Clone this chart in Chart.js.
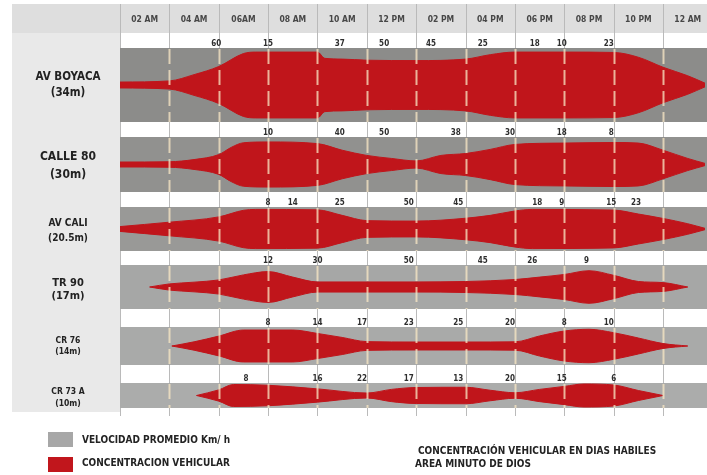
<!DOCTYPE html>
<html lang="es">
<head>
<meta charset="utf-8">
<title>Concentración vehicular en días hábiles — Área Minuto de Dios</title>
<script src="https://cdn.jsdelivr.net/npm/chart.js@4.4.1/dist/chart.umd.min.js"></script>
<style>
  html, body { margin: 0; padding: 0; background: #fff; }
  #frame { position: relative; width: 707px; height: 475px; overflow: hidden;
           font-family: "DejaVu Sans Condensed", "Liberation Sans", Arial, sans-serif; font-weight: bold; color: #232323; }
  #chart { position: absolute; left: 0; top: 0; }
  .swatch { position: absolute; left: 48px; width: 25px; height: 15px; }
  .key { position: absolute; left: 82px; font-size: 10px; line-height: 12px; white-space: nowrap; }
  .note { position: absolute; font-size: 10px; line-height: 12px; white-space: nowrap; }
</style>
</head>
<body>
<div id="frame">
  <canvas id="chart" width="707" height="475"></canvas>
  <div class="swatch" style="top:432px;background:#a7a7a7"></div>
  <div class="key" style="top:434px">VELOCIDAD PROMEDIO Km/ h</div>
  <div class="swatch" style="top:457px;background:#c1161c"></div>
  <div class="key" style="top:457px">CONCENTRACION VEHICULAR</div>
  <div class="note" style="left:418px;top:445px">CONCENTRACIÓN VEHICULAR EN DIAS HABILES</div>
  <div class="note" style="left:415px;top:458px">AREA MINUTO DE DIOS</div>
</div>
<script>
// ---- time axis -------------------------------------------------------------
const timeLabels = ['02 AM', '04 AM', '06AM', '08 AM', '10 AM', '12 PM',
                    '02 PM', '04 PM', '06 PM', '08 PM', '10 PM', '12 AM'];
const labelHours = [2, 4, 6, 8, 10, 12, 14, 16, 18, 20, 22, 24];
const ruleHours  = [1, 3, 5, 7, 9, 11, 13, 15, 17, 19, 21, 23];

// ---- roads -----------------------------------------------------------------
const roadNames  = ['AV BOYACA', 'CALLE 80', 'AV CALI', 'TR 90', 'CR 76', 'CR 73 A'];
const roadWidths = ['(34m)', '(30m)', '(20.5m)', '(17m)', '(14m)', '(10m)'];

// vehicle concentration (% of the lane band), sampled by hour of day
const boyacaHours  = [1, 3, 4, 5, 6, 6.5, 7, 9, 9.3, 10, 11, 13, 15, 16, 17, 19, 21, 22, 23, 24, 24.7];
const boyacaConc   = [8, 11, 28, 50, 85, 89, 89, 89, 72, 70, 67, 66, 70, 82, 89, 89, 88, 75, 48, 25, 5];
const calle80Hours = [1, 3, 4, 5, 5.5, 6, 7, 9, 10, 11, 12, 13, 14, 15, 16, 17, 19, 21, 22, 23, 24, 24.7];
const calle80Conc  = [9, 10, 18, 36, 62, 79, 82, 76, 52, 33, 22, 13, 33, 40, 55, 73, 78, 80, 78, 52, 22, 4];
const avCaliHours  = [1, 3, 5, 6, 6.5, 9, 10, 11, 13, 15, 16, 17, 17.7, 21, 22, 23, 24, 24.7];
const avCaliConc   = [11, 31, 55, 85, 89, 87, 62, 38, 36, 49, 62, 82, 89, 86, 68, 48, 24, 3];
const tr90Hours    = [2.2, 3, 4, 5, 6, 7, 8, 9, 11, 13, 15, 17, 18, 19, 20, 21, 22, 23, 24];
const tr90Conc     = [0, 14, 22, 32, 55, 70, 45, 23, 23, 23, 25, 34, 45, 57, 74, 53, 25, 20, 0];
const cr76Hours    = [3.1, 4, 5, 6, 8, 9, 10, 11, 13, 15, 17, 18, 19, 20, 21, 22, 23, 24];
const cr76Conc     = [0, 22, 52, 84, 84, 66, 45, 23, 21, 21, 22, 53, 79, 88, 70, 42, 13, 0];
const cr73aHours   = [4.1, 5, 5.6, 7, 9, 11, 12, 13, 15, 16, 17, 18, 19, 19.8, 21, 22, 23];
const cr73aConc    = [0, 45, 88, 82, 53, 20, 49, 64, 66, 42, 22, 49, 73, 92, 84, 40, 0];

// average speed (km/h) and the hour each reading is posted at
const boyacaSpeedHours  = [4.9, 7, 9.9, 11.7, 13.6, 15.7, 17.8, 18.9, 20.8];
const boyacaSpeeds      = [60, 15, 37, 50, 45, 25, 18, 10, 23];
const calle80SpeedHours = [7, 9.9, 11.7, 14.6, 16.8, 18.9, 20.9];
const calle80Speeds     = [10, 40, 50, 38, 30, 18, 8];
const avCaliSpeedHours  = [7, 8, 9.9, 12.7, 14.7, 17.9, 18.9, 20.9, 21.9];
const avCaliSpeeds      = [8, 14, 25, 50, 45, 18, 9, 15, 23];
const tr90SpeedHours    = [7, 9, 12.7, 15.7, 17.7, 19.9];
const tr90Speeds        = [12, 30, 50, 45, 26, 9];
const cr76SpeedHours    = [7, 9, 10.8, 12.7, 14.7, 16.8, 19, 20.8];
const cr76Speeds        = [8, 14, 17, 23, 25, 20, 8, 10];
const cr73aSpeedHours   = [6.1, 9, 10.8, 12.7, 14.7, 16.8, 18.9, 21];
const cr73aSpeeds       = [8, 16, 22, 17, 13, 20, 15, 6];

const concHours  = [boyacaHours, calle80Hours, avCaliHours, tr90Hours, cr76Hours, cr73aHours];
const concValues = [boyacaConc, calle80Conc, avCaliConc, tr90Conc, cr76Conc, cr73aConc];
const speedHours = [boyacaSpeedHours, calle80SpeedHours, avCaliSpeedHours, tr90SpeedHours, cr76SpeedHours, cr73aSpeedHours];
const speedValues = [boyacaSpeeds, calle80Speeds, avCaliSpeeds, tr90Speeds, cr76Speeds, cr73aSpeeds];

// ---- layout (vertical layout units) -----------------------------------------
const LAYOUT_HEIGHT = 475;
const X_MAX = 24.78;
const bandTop    = [48, 137, 207, 265, 327, 383];
const bandBottom = [122, 192, 251, 309, 365, 408];
const bandFill   = ['#8c8c8a', '#91918f', '#999997', '#a6a7a6', '#a9aaa9', '#abacab'];
const nameCenter = [85, 166, 230.5, 290, 346, 397.5];
const nameGap    = [16, 18, 15, 13, 11, 12];
const nameSize   = [11.5, 12, 10, 11, 8.5, 8.5];
const HEADER_TOP = 4, HEADER_BOTTOM = 33, HEADER_TEXT_Y = 20;
const PANEL_LEFT = 12, PANEL_BOTTOM = 412, RULE_BOTTOM = 416;
const RED = '#c0151b';
const FONT = '"DejaVu Sans Condensed", "Liberation Sans", Arial, sans-serif';

// ---- datasets ----------------------------------------------------------------
const datasets = [];
bandTop.forEach((top, i) => {
  datasets.push({
    data: [{ x: 1, y: top }, { x: X_MAX, y: top }],
    fill: { value: bandBottom[i] },
    backgroundColor: bandFill[i],
    borderWidth: 0, pointRadius: 0, order: 3
  });
});
concValues.forEach((vals, i) => {
  const mid = (bandTop[i] + bandBottom[i]) / 2;
  const half = (bandBottom[i] - bandTop[i]) / 2;
  const hours = concHours[i];
  const common = { borderColor: RED, borderWidth: 1, pointRadius: 0,
                   cubicInterpolationMode: 'monotone', order: 1 };
  datasets.push(Object.assign({
    data: hours.map((h, k) => ({ x: h, y: mid - vals[k] / 100 * half })),
    fill: '+1', backgroundColor: RED
  }, common));
  datasets.push(Object.assign({
    data: hours.map((h, k) => ({ x: h, y: mid + vals[k] / 100 * half })),
    fill: false
  }, common));
});

// ---- decorations: header, road panel, hour rules, labels ----------------------
const frame = {
  id: 'frame',
  beforeDatasetsDraw(chart) {
    const { ctx, chartArea } = chart;
    const xs = chart.scales.x, ys = chart.scales.y;
    const yPx = v => ys.getPixelForValue(v);
    ctx.save();
    ctx.fillStyle = '#dedede';
    ctx.fillRect(PANEL_LEFT, yPx(HEADER_TOP), chart.width - PANEL_LEFT, yPx(HEADER_BOTTOM) - yPx(HEADER_TOP));
    ctx.fillStyle = '#e9e9e9';
    ctx.fillRect(PANEL_LEFT, yPx(HEADER_BOTTOM), chartArea.left - PANEL_LEFT, yPx(PANEL_BOTTOM) - yPx(HEADER_BOTTOM));

    ctx.strokeStyle = '#bababa';
    ctx.lineWidth = 1;
    ruleHours.forEach(h => {
      const x = Math.round(xs.getPixelForValue(h)) + 0.5;
      ctx.beginPath();
      ctx.moveTo(x, yPx(HEADER_TOP));
      ctx.lineTo(x, yPx(RULE_BOTTOM));
      ctx.stroke();
    });

    ctx.textAlign = 'center';
    ctx.textBaseline = 'middle';
    ctx.fillStyle = '#474747';
    ctx.font = 'bold 8.5px ' + FONT;
    timeLabels.forEach((t, i) => ctx.fillText(t, xs.getPixelForValue(labelHours[i]), yPx(HEADER_TEXT_Y)));

    ctx.fillStyle = '#222';
    const cx = (PANEL_LEFT + chartArea.left) / 2 + 2;
    roadNames.forEach((name, i) => {
      ctx.font = 'bold ' + nameSize[i] + 'px ' + FONT;
      ctx.fillText(name, cx, yPx(nameCenter[i] - nameGap[i] / 2));
      ctx.fillText(roadWidths[i], cx, yPx(nameCenter[i] + nameGap[i] / 2));
    });
    ctx.restore();
  },
  afterDatasetsDraw(chart) {
    const { ctx } = chart;
    const xs = chart.scales.x, ys = chart.scales.y;
    const yPx = v => ys.getPixelForValue(v);
    ctx.save();
    ctx.strokeStyle = 'rgba(250, 232, 198, 0.75)';
    ctx.lineWidth = 2;
    ctx.setLineDash([15, 6]);
    bandTop.forEach((top, i) => {
      ruleHours.slice(1).forEach(h => {
        const x = Math.round(xs.getPixelForValue(h)) + 0.5;
        ctx.beginPath();
        ctx.moveTo(x, yPx(top) + 1);
        ctx.lineTo(x, yPx(bandBottom[i]));
        ctx.stroke();
      });
    });
    ctx.setLineDash([]);
    ctx.fillStyle = '#2e2e2e';
    ctx.font = 'bold 8px ' + FONT;
    ctx.textAlign = 'center';
    ctx.textBaseline = 'middle';
    speedValues.forEach((vals, i) => {
      vals.forEach((v, k) => ctx.fillText(String(v), xs.getPixelForValue(speedHours[i][k]), yPx(bandTop[i] - 4.5)));
    });
    ctx.restore();
  }
};

new Chart(document.getElementById('chart'), {
  type: 'line',
  data: { datasets },
  options: {
    responsive: false,
    animation: false,
    events: [],
    layout: { padding: { left: 120, right: 0, top: 0, bottom: 0 } },
    scales: {
      x: { type: 'linear', min: 1, max: X_MAX, display: false },
      y: { type: 'linear', min: 0, max: LAYOUT_HEIGHT, reverse: true, display: false }
    },
    plugins: { legend: { display: false }, tooltip: { enabled: false } }
  },
  plugins: [frame]
});
</script>
</body>
</html>
